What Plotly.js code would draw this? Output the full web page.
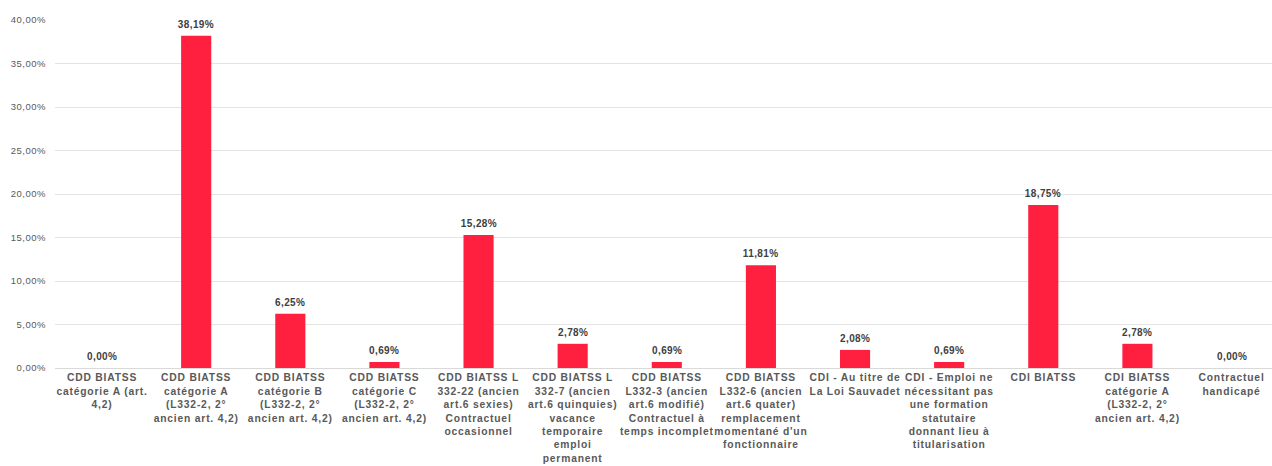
<!DOCTYPE html>
<html>
<head>
<meta charset="utf-8">
<script src="https://cdn.plot.ly/plotly-3.0.1.min.js"></script>
<style>
html,body{margin:0;padding:0;background:#fff;}
#chart{width:1272px;height:466px;}
#chart .xtick text{letter-spacing:0.8px;}
#chart .ytick text{letter-spacing:0.5px;}
#chart .annotation-text{letter-spacing:0.4px;}
</style>
</head>
<body>
<div id="chart"></div>
<script>
const categories = [
  "CDD BIATSS<br>catégorie A (art.<br>4,2)",
  "CDD BIATSS<br>catégorie A<br>(L332-2, 2°<br>ancien art. 4,2)",
  "CDD BIATSS<br>catégorie B<br>(L332-2, 2°<br>ancien art. 4,2)",
  "CDD BIATSS<br>catégorie C<br>(L332-2, 2°<br>ancien art. 4,2)",
  "CDD BIATSS L<br>332-22 (ancien<br>art.6 sexies)<br>Contractuel<br>occasionnel",
  "CDD BIATSS L<br>332-7 (ancien<br>art.6 quinquies)<br>vacance<br>temporaire<br>emploi<br>permanent",
  "CDD BIATSS<br>L332-3 (ancien<br>art.6 modifié)<br>Contractuel à<br>temps incomplet",
  "CDD BIATSS<br>L332-6 (ancien<br>art.6 quater)<br>remplacement<br>momentané d'un<br>fonctionnaire",
  "CDI - Au titre de<br>La Loi Sauvadet",
  "CDI - Emploi ne<br>nécessitant pas<br>une formation<br>statutaire<br>donnant lieu à<br>titularisation",
  "CDI BIATSS",
  "CDI BIATSS<br>catégorie A<br>(L332-2, 2°<br>ancien art. 4,2)",
  "Contractuel<br>handicapé"
];
const values = [0.0000, 0.3819, 0.0625, 0.0069, 0.1528, 0.0278, 0.0069, 0.1181, 0.0208, 0.0069, 0.1875, 0.0278, 0.0000];
const yTicks = [0, 0.05, 0.10, 0.15, 0.20, 0.25, 0.30, 0.35, 0.40];

function fmtPct(v) { return (v * 100).toFixed(2).replace('.', ',') + '%'; }

const trace = {
  type: 'bar',
  x: categories,
  y: values,
  marker: {color: '#FF1F3F'},
  hoverinfo: 'none'
};

const annotations = categories.map((c, i) => ({
  x: c, y: values[i], xref: 'x', yref: 'y',
  text: fmtPct(values[i]),
  showarrow: false,
  yanchor: 'bottom',
  yshift: 4,
  font: {family: 'Liberation Sans, Arial, sans-serif', size: 10, color: '#404040', weight: 'bold'}
}));

const layout = {
  width: 1272, height: 466,
  margin: {l: 55, r: 0, t: 20, b: 98},
  paper_bgcolor: '#fff', plot_bgcolor: '#fff',
  separators: ', ',
  bargap: 0.68,
  showlegend: false,
  annotations: annotations,
  xaxis: {
    type: 'category',
    range: [-0.5, 12.43],
    showgrid: false,
    showline: true, linecolor: '#d9d9d9', linewidth: 1,
    ticks: '',
    tickangle: 0,
    tickfont: {family: 'Liberation Sans, Arial, sans-serif', size: 10.3, color: '#595959', weight: 'bold'},
    automargin: false
  },
  yaxis: {
    range: [0, 0.40],
    tickvals: yTicks,
    tickformat: '.2%',
    showgrid: true, gridcolor: '#e3e3e3', gridwidth: 1,
    zeroline: false,
    ticks: '',
    ticklabelstandoff: 8,
    tickfont: {family: 'Liberation Sans, Arial, sans-serif', size: 9.5, color: '#595959'},
    automargin: false
  }
};

Plotly.newPlot('chart', [trace], layout, {staticPlot: true, displayModeBar: false});
</script>
</body>
</html>
